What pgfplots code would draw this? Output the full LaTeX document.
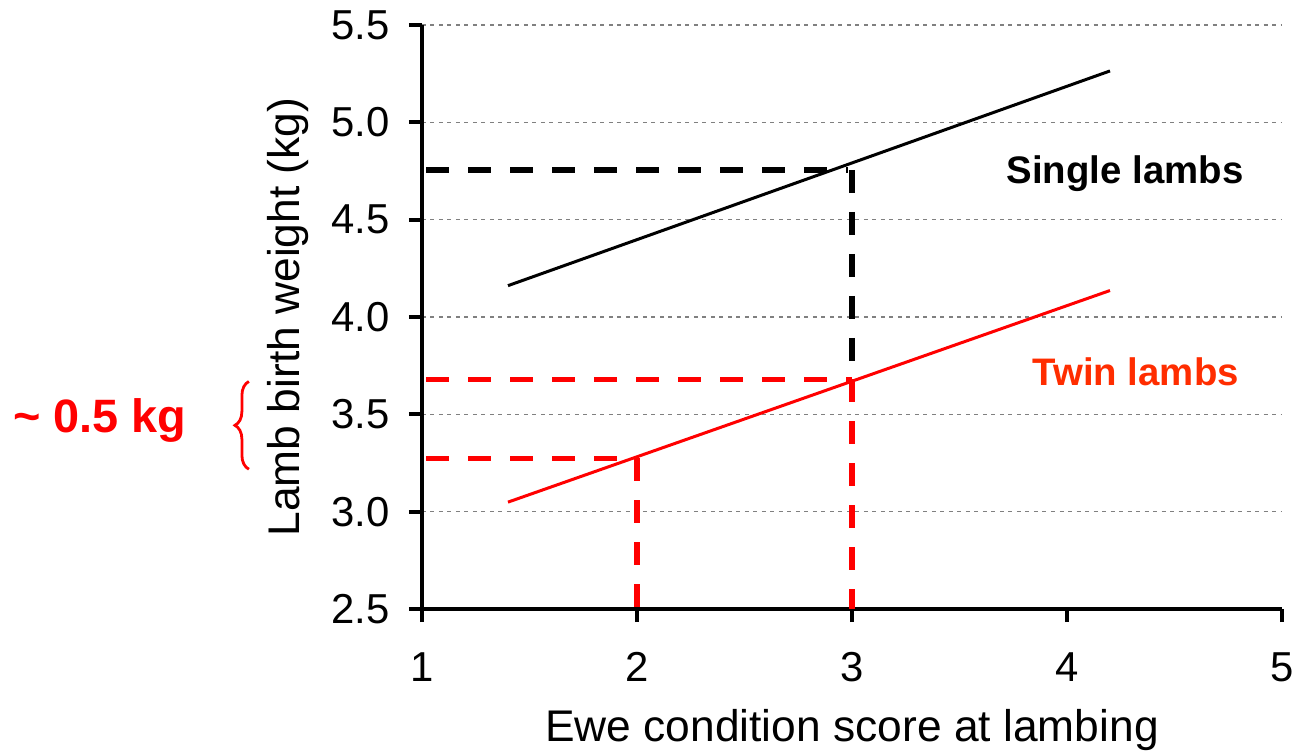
\documentclass[border=0pt]{standalone}
\usepackage{pgfplots}
\pgfplotsset{compat=1.18}
\usepackage{fontspec}
\setmainfont{Liberation Sans}
\usetikzlibrary{decorations.pathreplacing}
\definecolor{twin}{RGB}{255,45,0}
\definecolor{gridgray}{RGB}{128,128,128}
\begin{document}
\begin{tikzpicture}
\begin{axis}[
  name=ax,
  scale only axis, width=860bp, height=584bp,
  xmin=1, xmax=5, ymin=2.5, ymax=5.5,
  axis x line*=bottom, axis y line*=left,
  xtick={1,2,3,4,5}, ytick={2.5,3,3.5,4,4.5,5,5.5},
  tick align=outside, major tick length=13bp,
  tick style={black, line width=4bp},
  axis line style={black, line width=4bp},
  ymajorgrids, grid style={gridgray, dash pattern=on 4bp off 4.5bp, line width=1.6bp},
  /pgf/number format/assume math mode=true,
  ticklabel style={font=\fontsize{42}{48}\selectfont},
  yticklabel style={/pgf/number format/fixed, /pgf/number format/fixed zerofill, /pgf/number format/precision=1, xshift=-16bp},
  xticklabel style={yshift=-27bp},
  label style={font=\fontsize{44.5}{52}\selectfont},
  xlabel={Ewe condition score at lambing},
  ylabel={Lamb birth weight (kg)},
  xlabel style={yshift=-20bp},
  ylabel style={yshift=16bp},
  clip=false,
]
% fitted lines
\addplot[black, line width=3bp] coordinates {(1.4,4.161) (4.2,5.264)};
\addplot[red, line width=3bp] coordinates {(1.4,3.049) (4.2,4.136)};
% dashed guides
\addplot[black, line width=5.5bp, dash pattern=on 23bp off 19bp] coordinates {(1.02,4.756) (2.98,4.756)};
\addplot[black, line width=5.5bp, dash pattern=on 23bp off 19bp] coordinates {(3,4.756) (3,3.679)};
\addplot[red, line width=5.5bp, dash pattern=on 23bp off 19bp] coordinates {(1.02,3.679) (3,3.679)};
\addplot[red, line width=5.5bp, dash pattern=on 23bp off 19bp] coordinates {(3,3.679) (3,2.5)};
\addplot[red, line width=5.5bp, dash pattern=on 23bp off 19bp] coordinates {(1.02,3.274) (2,3.274)};
\addplot[red, line width=5.5bp, dash pattern=on 23bp off 19bp] coordinates {(2,3.274) (2,2.5)};
% annotations
\node[font=\fontsize{38.5}{44}\selectfont\bfseries, black] at (axis cs:4.27,4.735) {Single lambs};
\node[font=\fontsize{38.5}{44}\selectfont\bfseries, twin] at (axis cs:4.32,3.72) {Twin lambs};
\node[font=\fontsize{47}{54}\selectfont\bfseries, red] at (axis cs:-0.498,3.47) {\textasciitilde{} 0.5 kg};
\draw[red, line width=2.8bp, decorate, decoration={brace, amplitude=14bp}] (axis cs:0.195,3.218) -- (axis cs:0.195,3.669);
\end{axis}
\pgfresetboundingbox
\path (ax.south west) ++(-422bp,-143bp) rectangle ++(1293bp,752bp);
\end{tikzpicture}
\end{document}
